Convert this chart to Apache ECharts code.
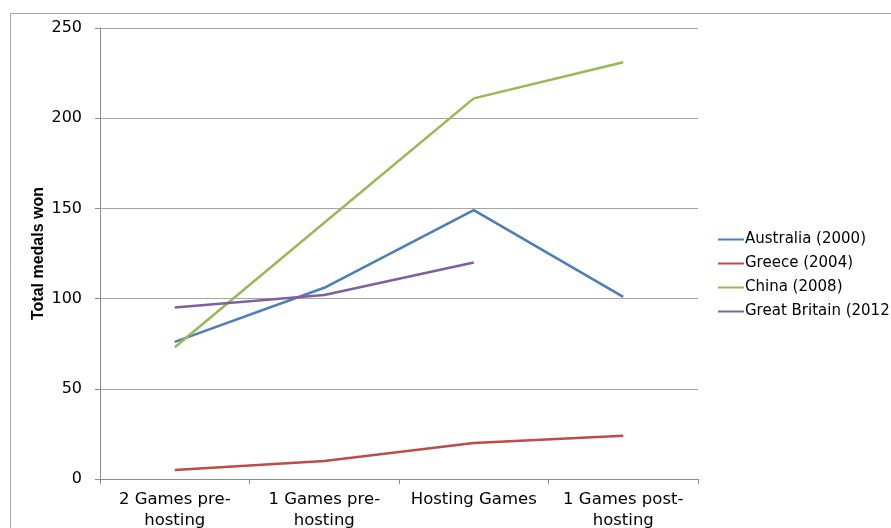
<!DOCTYPE html>
<html lang="en">
<head>
    <meta charset="UTF-8">
    <title>Total medals won around hosting</title>
    <script src="https://cdn.jsdelivr.net/npm/echarts@6/dist/echarts.min.js"></script>
    <style>
        html, body { margin: 0; padding: 0; background: #fff; }
    </style>
</head>
<body>
    <div id="main" style="width: 891px;height:528px;"></div>
    <script type="text/javascript">
        // data
        var stages = ['2 Games pre-\nhosting', '1 Games pre-\nhosting', 'Hosting Games', '1 Games post-\nhosting'];
        var australia = [76, 106, 149, 101];
        var greece = [5, 10, 20, 24];
        var china = [73, 142, 211, 231];
        var greatBritain = [95, 102, 120, null];

        var myChart = echarts.init(document.getElementById('main'));

        function lineSeries(name, data, color) {
            return {
                name: name,
                type: 'line',
                data: data,
                symbol: 'none',
                color: color,
                lineStyle: { color: color, width: 2.5 },
                connectNulls: false
            };
        }

        var option = {
            animation: false,
            backgroundColor: '#fff',
            graphic: [{
                type: 'rect',
                shape: { x: 10.5, y: 13.5, width: 900, height: 600 },
                style: { fill: 'none', stroke: '#a6a6a6', lineWidth: 1 },
                silent: true
            }],
            grid: {
                left: 100,
                top: 28,
                width: 598,
                height: 451,
                containLabel: false,
                outerBoundsMode: 'none'
            },
            legend: {
                orient: 'vertical',
                left: 717,
                top: 232,
                padding: 0,
                itemWidth: 26,
                itemHeight: 14,
                itemGap: 9,
                itemStyle: { opacity: 0 },
                textStyle: {
                    fontFamily: 'DejaVu Sans',
                    fontSize: 15,
                    color: '#000',
                    padding: [0, 0, 0, -4]
                },
                data: ['Australia (2000)', 'Greece (2004)', 'China (2008)', 'Great Britain (2012)']
            },
            xAxis: {
                type: 'category',
                data: stages,
                boundaryGap: true,
                axisLine: { lineStyle: { color: '#8c8c8c', width: 1 } },
                axisTick: { show: true, length: 5, lineStyle: { color: '#8c8c8c' } },
                axisLabel: {
                    interval: 0,
                    margin: 10,
                    fontFamily: 'DejaVu Sans',
                    fontSize: 16.5,
                    color: '#000',
                    lineHeight: 21
                },
                splitLine: { show: false }
            },
            yAxis: {
                type: 'value',
                min: 0,
                max: 250,
                interval: 50,
                name: 'Total medals won',
                nameLocation: 'middle',
                nameRotate: 90,
                nameGap: 53,
                nameMoveOverlap: false,
                nameTextStyle: {
                    fontFamily: 'Liberation Sans',
                    fontWeight: 'bold',
                    fontSize: 16,
                    color: '#000'
                },
                axisLine: { show: true, lineStyle: { color: '#8c8c8c', width: 1 } },
                axisTick: { show: true, length: 5, lineStyle: { color: '#8c8c8c' } },
                axisLabel: {
                    margin: 18,
                    fontFamily: 'DejaVu Sans',
                    fontSize: 16,
                    color: '#000'
                },
                splitLine: { show: true, lineStyle: { color: '#a6a6a6', width: 1 } }
            },
            series: [
                lineSeries('Australia (2000)', australia, '#4a7ebb'),
                lineSeries('Greece (2004)', greece, '#be4b48'),
                lineSeries('China (2008)', china, '#98b954'),
                lineSeries('Great Britain (2012)', greatBritain, '#7d60a0')
            ]
        };

        myChart.setOption(option);
    </script>
</body>
</html>
